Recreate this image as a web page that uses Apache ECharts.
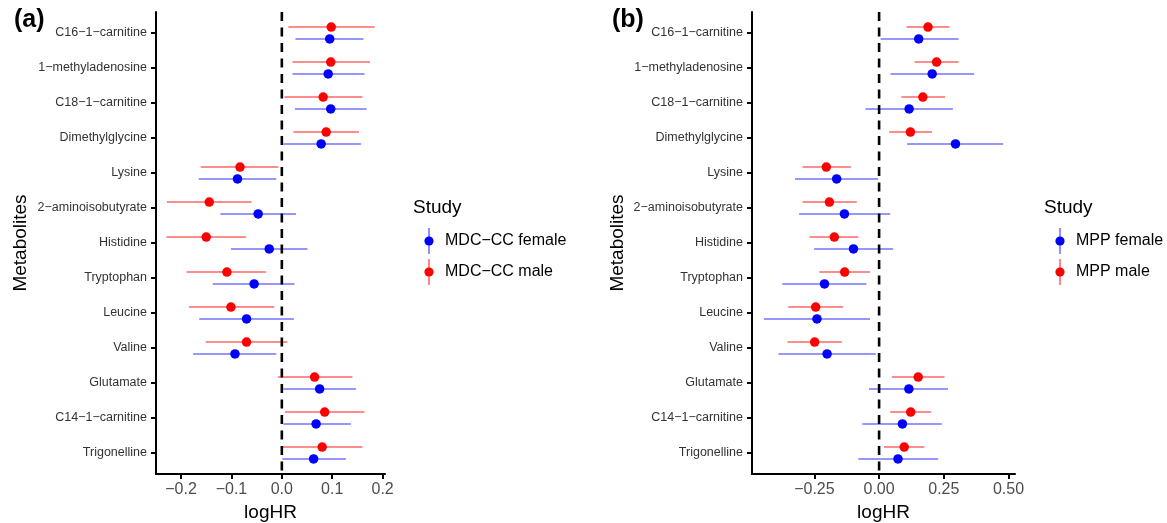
<!DOCTYPE html>
<html>
<head>
<meta charset="utf-8">
<script src="https://cdn.jsdelivr.net/npm/echarts@6/dist/echarts.min.js"></script>
<style>html,body{margin:0;padding:0;background:#fff}#c{width:1167px;height:523px}</style>
</head>
<body>
<div id="c"></div>
<script>
const categories = ['C16−1−carnitine','1−methyladenosine','C18−1−carnitine','Dimethylglycine','Lysine','2−aminoisobutyrate','Histidine','Tryptophan','Leucine','Valine','Glutamate','C14−1−carnitine','Trigonelline'];

// Panel (a): MDC-CC
const aMaleEst = [0.098,0.097,0.082,0.088,-0.083,-0.144,-0.150,-0.109,-0.101,-0.070,0.065,0.085,0.080];
const aMaleLo  = [0.013,0.021,0.005,0.023,-0.161,-0.228,-0.229,-0.189,-0.184,-0.151,-0.008,0.006,-0.002];
const aMaleHi  = [0.184,0.175,0.160,0.153,-0.007,-0.060,-0.071,-0.031,-0.015,0.011,0.140,0.164,0.160];
const aFemEst  = [0.095,0.092,0.097,0.078,-0.088,-0.047,-0.025,-0.055,-0.070,-0.093,0.075,0.068,0.063];
const aFemLo   = [0.027,0.021,0.026,0.003,-0.165,-0.122,-0.101,-0.137,-0.164,-0.176,0.003,0.003,0.001];
const aFemHi   = [0.162,0.164,0.168,0.157,-0.011,0.028,0.051,0.025,0.024,-0.011,0.147,0.137,0.127];

// Panel (b): MPP
const bMaleEst = [0.189,0.222,0.169,0.121,-0.204,-0.192,-0.173,-0.133,-0.245,-0.249,0.151,0.122,0.097];
const bMaleLo  = [0.106,0.137,0.086,0.039,-0.296,-0.296,-0.269,-0.231,-0.351,-0.354,0.049,0.043,0.019];
const bMaleHi  = [0.272,0.307,0.255,0.204,-0.109,-0.086,-0.080,-0.035,-0.139,-0.144,0.253,0.201,0.175];
const bFemEst  = [0.153,0.205,0.116,0.295,-0.164,-0.134,-0.099,-0.211,-0.240,-0.201,0.115,0.090,0.073];
const bFemLo   = [0.006,0.044,-0.053,0.108,-0.325,-0.309,-0.251,-0.374,-0.445,-0.389,-0.039,-0.065,-0.080];
const bFemHi   = [0.307,0.367,0.285,0.479,-0.004,0.043,0.054,-0.049,-0.035,-0.013,0.266,0.242,0.228];

const aTicks = [-0.2,-0.1,0,0.1,0.2];
const bTicks = [-0.25,0,0.25,0.5];
const legendA = ['MDC−CC female','MDC−CC male'];
const legendB = ['MPP female','MPP male'];

const FONT = '"Liberation Sans", Arial, Helvetica, sans-serif';
const BLUE = '#0000FF', RED = '#FF0000';
const BLUE_L = 'rgba(0,0,255,0.55)', RED_L = 'rgba(255,0,0,0.6)';
const DODGE = 0.17;
const catIdx = categories.map((_, i) => i);
const minus = s => s.replace(/-/g, '−');

function yAxisDef(gi) {
  return {
    type: 'value', gridIndex: gi, inverse: true, min: -0.6, max: 12.6,
    name: 'Metabolites', nameLocation: 'middle', nameGap: gi === 0 ? 126 : 125,
    nameTextStyle: {fontFamily: FONT, fontSize: 19, color: '#000'},
    axisLine: {show: true, onZero: false, lineStyle: {color: '#000', width: 2}},
    axisTick: {show: true, length: 5, lineStyle: {color: '#000', width: 2}, customValues: catIdx},
    axisLabel: {customValues: catIdx, margin: 9, fontFamily: FONT, fontSize: 12.5, color: '#333',
      formatter: v => categories[Math.round(v)]},
    splitLine: {show: false}
  };
}
function xAxisDef(gi, min, max, ticks, dec) {
  return {
    type: 'value', gridIndex: gi, min: min, max: max,
    name: 'logHR', nameLocation: 'middle', nameGap: 27,
    nameTextStyle: {fontFamily: FONT, fontSize: 19, color: '#000'},
    axisLine: {show: true, onZero: false, lineStyle: {color: '#000', width: 2}},
    axisTick: {show: true, length: 5, lineStyle: {color: '#000', width: 2}, customValues: ticks},
    axisLabel: {customValues: ticks, margin: 8, fontFamily: FONT, fontSize: 16, color: '#4d4d4d',
      formatter: v => minus(Number(v).toFixed(dec))},
    splitLine: {show: false}
  };
}
function errSeries(gi, lo, hi, off, color) {
  return {
    type: 'custom', xAxisIndex: gi, yAxisIndex: gi, z: 2,
    data: lo.map((l, i) => [i + off, l, hi[i]]),
    encode: {y: 0, x: [1, 2]},
    renderItem: function (params, api) {
      const y = api.value(0);
      const p1 = api.coord([api.value(1), y]);
      const p2 = api.coord([api.value(2), y]);
      return {type: 'line', shape: {x1: p1[0], y1: p1[1], x2: p2[0], y2: p2[1]},
        style: {stroke: color, lineWidth: 1.6}};
    },
    silent: true
  };
}
function ptSeries(gi, est, off, color) {
  return {
    type: 'scatter', xAxisIndex: gi, yAxisIndex: gi, z: 4,
    data: est.map((e, i) => [e, i + off]),
    symbol: 'circle', symbolSize: 9.5, itemStyle: {color: color, opacity: 1},
    silent: true
  };
}
function zeroLine(gi) {
  return {
    type: 'line', xAxisIndex: gi, yAxisIndex: gi, z: 3,
    data: [[0, -0.6], [0, 12.6]], symbol: 'none', silent: true,
    lineStyle: {color: '#000', width: 2.6, type: [9, 6.5]}
  };
}
function legendGraphics(x0, titleY, names) {
  const items = [];
  items.push({type: 'text', left: x0 - 16, top: titleY - 9,
    style: {text: 'Study', fontFamily: FONT, fontSize: 19, fill: '#000'}});
  const rows = [{y: 241, c: BLUE, l: BLUE_L, t: names[0]}, {y: 272, c: RED, l: RED_L, t: names[1]}];
  rows.forEach(r => {
    items.push({type: 'line', shape: {x1: x0, y1: r.y - 13, x2: x0, y2: r.y + 13}, style: {stroke: r.l, lineWidth: 1.6}});
    items.push({type: 'circle', shape: {cx: x0, cy: r.y, r: 4.6}, style: {fill: r.c}});
    items.push({type: 'text', x: x0 + 16, y: r.y, style: {text: r.t, fontFamily: FONT, fontSize: 16, fill: '#000', verticalAlign: 'middle', align: 'left'}});
  });
  return items;
}

const chart = echarts.init(document.getElementById('c'), null, {renderer: 'canvas'});
chart.setOption({
  backgroundColor: '#fff',
  animation: false,
  grid: [
    {left: 156, top: 12, width: 229, height: 462, outerBoundsMode: 'none', containLabel: false},
    {left: 752, top: 12, width: 263, height: 462, outerBoundsMode: 'none', containLabel: false}
  ],
  xAxis: [xAxisDef(0, -0.2497, 0.2047, aTicks, 1), xAxisDef(1, -0.491, 0.525, bTicks, 2)],
  yAxis: [yAxisDef(0), yAxisDef(1)],
  series: [
    errSeries(0, aFemLo, aFemHi, DODGE, BLUE_L),
    errSeries(0, aMaleLo, aMaleHi, -DODGE, RED_L),
    zeroLine(0),
    ptSeries(0, aFemEst, DODGE, BLUE),
    ptSeries(0, aMaleEst, -DODGE, RED),
    errSeries(1, bFemLo, bFemHi, DODGE, BLUE_L),
    errSeries(1, bMaleLo, bMaleHi, -DODGE, RED_L),
    zeroLine(1),
    ptSeries(1, bFemEst, DODGE, BLUE),
    ptSeries(1, bMaleEst, -DODGE, RED)
  ],
  graphic: [
    {type: 'text', left: 14, top: 8, style: {text: '(a)', fontFamily: FONT, fontSize: 25, fontWeight: 'bold', fill: '#000'}},
    {type: 'text', left: 612, top: 8, style: {text: '(b)', fontFamily: FONT, fontSize: 25, fontWeight: 'bold', fill: '#000'}}
  ].concat(legendGraphics(429, 207, legendA)).concat(legendGraphics(1060, 207, legendB))
});
</script>
</body>
</html>
